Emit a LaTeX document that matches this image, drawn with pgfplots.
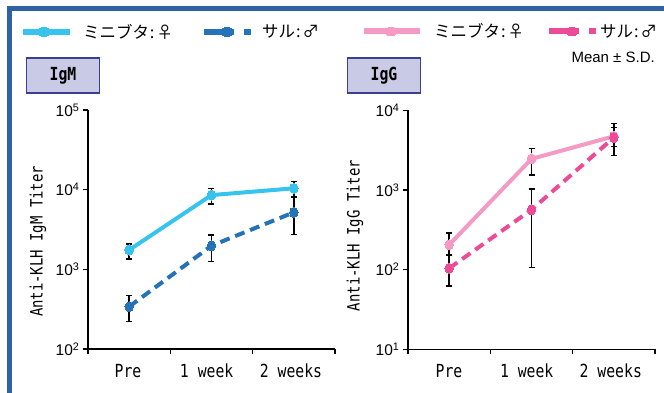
\documentclass[border=0pt]{standalone}
\usepackage{fontspec}
\usepackage{pgfplots}
\pgfplotsset{compat=1.18}
\setmainfont{Liberation Sans}
\newfontfamily\gothic[FakeStretch=0.82]{DejaVu Sans Mono}
\newfontfamily\jp{Noto Sans CJK JP}
\definecolor{cyanA}{HTML}{36C3EE}
\definecolor{blueB}{HTML}{2472B8}
\definecolor{pinkA}{HTML}{F49AC4}
\definecolor{pinkB}{HTML}{EC4B98}
\definecolor{frameblue}{HTML}{2E63A6}
\definecolor{boxfill}{HTML}{C9CBE6}
\definecolor{boxdraw}{HTML}{3A3F8F}

\pgfplotsset{
  common/.style={
    scale only axis, width=247pt, height=239pt,
    xmin=0, xmax=3, log basis y=10,
    axis x line*=bottom, axis y line*=left,
    axis line style={black, line width=1.1pt},
    tick align=outside,
    xtick={0,1,2,3}, xticklabels={},
    extra x tick labels={Pre,1 week,2 weeks},
    extra x tick style={major tick length=0pt},
    major tick length=5pt,
    tick style={black, line width=1.1pt},
    yminorticks=false,
    xticklabel style={font=\gothic\fontsize{18}{18}\selectfont, anchor=base, yshift=-28pt},
    yticklabel style={font=\fontsize{15.5}{16}\selectfont},
    ylabel style={font=\gothic\fontsize{17}{17}\selectfont, anchor=center},
    clip=false,
    legend columns=2,
    legend style={draw=none, fill=none, inner sep=0pt, outer sep=0pt,
      nodes={inner sep=0pt, anchor=west}, font=\jp\fontsize{16.5}{16.5}\selectfont,
      anchor=west},
    error bars/error bar style={black, line width=1.4pt, solid},
    error bars/error mark options={rotate=90, mark size=3pt, black, line width=1.4pt, solid},
  },
  solidline/.style={line width=4pt, mark=*, mark size=4.6pt,
    mark options={solid, draw=none, line width=0pt, fill=#1, xscale=0.92, yscale=1.1}, color=#1,
    error bars/y dir=both, error bars/y explicit},
  dashline/.style={line width=4pt, dash pattern=on 10pt off 6pt, mark=*, mark size=4.6pt,
    mark options={solid, draw=none, line width=0pt, fill=#1, xscale=0.92, yscale=1.1}, color=#1,
    error bars/y dir=both, error bars/y explicit},
  limgA/.style={legend image code/.code={\draw[mark repeat=2, mark phase=2, ##1, line width=6pt,
      mark options={line width=0pt, xscale=1.3, yscale=0.95}]
      plot coordinates {(0pt,0pt)(21pt,0pt)(47pt,0pt)};}},
  limgB/.style={legend image code/.code={\draw[mark repeat=2, mark phase=2, ##1, line width=6pt, dash pattern=on 30pt off 10pt on 7pt,
      mark options={line width=0pt, xscale=1.3, yscale=0.95}]
      plot coordinates {(0pt,0pt)(23pt,0pt)(47pt,0pt)};}},
  limgC/.style={legend image code/.code={\draw[mark repeat=2, mark phase=2, ##1, line width=6pt,
      mark options={line width=0pt, xscale=1.3, yscale=0.95}]
      plot coordinates {(0pt,0pt)(27pt,0pt)(56pt,0pt)};}},
}

\begin{document}
\begin{tikzpicture}
\useasboundingbox (0,0) rectangle (664pt,-392pt);
\draw[frameblue, line width=5pt] (9.7pt,-400pt) -- (9.7pt,-8.5pt) -- (670pt,-8.5pt);

% IgM
\begin{semilogyaxis}[common, at={(88pt,-349pt)}, anchor=south west,
  ymin=1e2, ymax=1e5, ytick={1e2,1e3,1e4,1e5},
  yticklabels={10\textsuperscript{2},10\textsuperscript{3},10\textsuperscript{4},10\textsuperscript{5}},
  extra x ticks={0.486,1.441,2.466},
  ylabel={Anti-KLH IgM Titer},
  ylabel style={at={(rel axis cs:-0.2024,0.45)}},
  legend style={at={(rel axis cs:-0.2753,1.3264)},
    /tikz/every odd column/.append style={column sep=10pt},
    /tikz/every even column/.append style={column sep=28pt}},
]
\addplot[solidline=cyanA, limgA] coordinates {
  (0.5,1750) += (0,325) -= (0,400)
  (1.5,8550) += (0,1850) -= (0,1950)
  (2.5,10400) += (0,2200) -= (0,2200)
};
\addlegendentry{ミニブタ\kern1pt:\kern2pt♀}
\addplot[dashline=blueB, limgB] coordinates {
  (0.5,340) += (0,127) -= (0,120)
  (1.5,1980) += (0,710) -= (0,735)
  (2.5,5190) += (0,2730) -= (0,2455)
};
\addlegendentry{\hspace{-2pt}サル\kern1pt:\kern2pt♂}
\end{semilogyaxis}

% IgG
\begin{semilogyaxis}[common, at={(408pt,-349.3pt)}, anchor=south west,
  ymin=1e1, ymax=1e4, ytick={1e1,1e2,1e3,1e4},
  yticklabels={10\textsuperscript{1},10\textsuperscript{2},10\textsuperscript{3},10\textsuperscript{4}},
  extra x ticks={0.498,1.442,2.463},
  ylabel={Anti-KLH IgG Titer},
  ylabel style={at={(rel axis cs:-0.2146,0.476)}},
  legend style={at={(rel axis cs:-0.19,1.33)},
    /tikz/every odd column/.append style={column sep=11pt},
    /tikz/every even column/.append style={column sep=22pt}},
]
\addplot[solidline=pinkA, limgC] coordinates {
  (0.5,205) += (0,83) -= (0,55)
  (1.5,2455) += (0,855) -= (0,905)
  (2.5,4720) += (0,1360) -= (0,1210)
};
\addlegendentry{ミニブタ\kern1pt:\kern2pt♀}
\addplot[dashline=pinkB, limgB] coordinates {
  (0.5,104) += (0,49) -= (0,41.5)
  (1.5,565) += (0,465) -= (0,459)
  (2.5,4550) += (0,2270) -= (0,1830)
};
\addlegendentry{\hspace{-10pt}サル\kern1pt:\kern2pt♂}
\end{semilogyaxis}

\node[draw=boxdraw, fill=boxfill, line width=1.2pt, minimum width=73pt, minimum height=35pt, inner sep=0pt]
  at (63pt,-75.5pt) {\gothic\bfseries\fontsize{18}{18}\selectfont IgM};
\node[draw=boxdraw, fill=boxfill, line width=1.2pt, minimum width=73pt, minimum height=35pt, inner sep=0pt]
  at (384pt,-75.5pt) {\gothic\bfseries\fontsize{18}{18}\selectfont IgG};
\node[anchor=base east, inner sep=0pt, font=\fontsize{15}{15}\selectfont] at (655pt,-62pt) {Mean ± S.D.};
\end{tikzpicture}
\end{document}
